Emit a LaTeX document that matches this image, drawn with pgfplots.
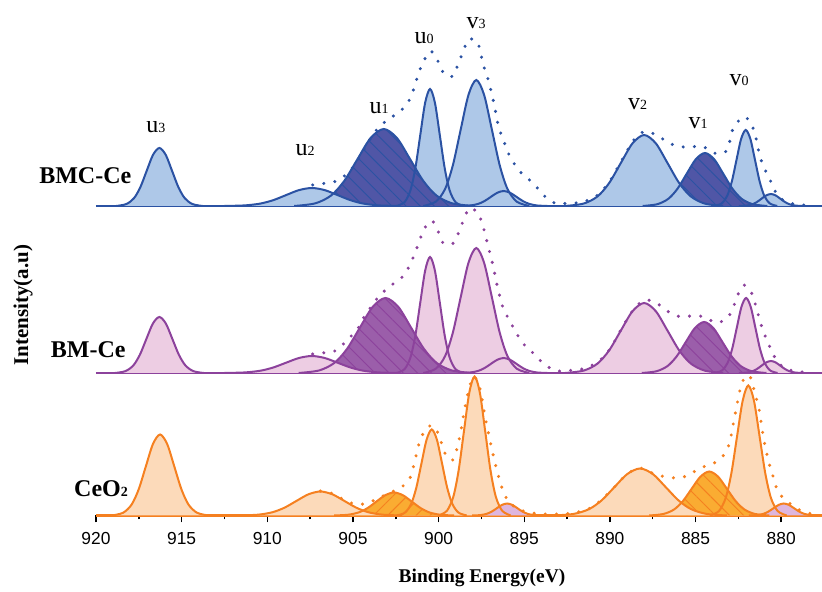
\documentclass[border=0pt]{standalone}
\usepackage{fontspec}
\setmainfont{Liberation Serif}
\newfontfamily\ticksf{Liberation Sans}
\usepackage{pgfplots}
\pgfplotsset{compat=1.18}
\usepackage{pgfplotstable}
\usetikzlibrary{patterns.meta}

\definecolor{aL}{RGB}{43,82,163}
\definecolor{aF}{RGB}{174,200,232}
\definecolor{aH}{RGB}{80,86,166}
\definecolor{bL}{RGB}{140,66,156}
\definecolor{bF}{RGB}{237,205,227}
\definecolor{bH}{RGB}{155,94,170}
\definecolor{cL}{RGB}{245,128,32}
\definecolor{cF}{RGB}{252,218,186}
\definecolor{cH}{RGB}{250,172,50}
\definecolor{cS}{RGB}{222,182,222}

% ---------------- BMC-Ce ----------------
\pgfplotstableread{
x y
913.784 0
914.376 1.97
914.82 7.85
915.19 18.83
915.56 35.18
915.93 51.19
916.3 58
916.67 51.19
917.04 35.18
917.41 18.83
917.78 7.85
918.224 1.97
918.816 0
}\PAa
\pgfplotstableread{
x y
902.3 0
903.5 0.61
904.4 2.44
905.15 5.84
905.9 10.92
906.65 15.89
907.4 18
908.15 15.89
908.9 10.92
909.65 5.84
910.4 2.44
911.3 0.61
912.5 0
}\PAb
\pgfplotstableread{
x y
897.964 0
899.196 2.62
900.12 10.42
900.89 25.0
901.66 46.7
902.43 67.95
903.2 77
903.97 67.95
904.74 46.7
905.51 25.0
906.28 10.42
907.204 2.62
908.436 0
}\PAc
\pgfplotstableread{
x y
898.562 0
899.018 3.98
899.36 15.83
899.645 37.99
899.93 70.96
900.215 103.25
900.5 117
900.785 103.25
901.07 70.96
901.355 37.99
901.64 15.83
901.982 3.98
902.438 0
}\PAd
\pgfplotstableread{
x y
894.706 0
895.434 4.28
895.98 17.05
896.435 40.91
896.89 76.42
897.345 111.2
897.8 126
898.255 111.2
898.71 76.42
899.165 40.91
899.62 17.05
900.166 4.28
900.894 0
}\PAe
\pgfplotstableread{
x y
893.65 0
894.25 0.51
894.7 2.03
895.075 4.87
895.45 9.10
895.825 13.24
896.2 15
896.575 13.24
896.95 9.10
897.325 4.87
897.7 2.03
898.15 0.51
898.75 0
}\PAf
\pgfplotstableread{
x y
883.376 0
884.464 2.41
885.28 9.61
885.96 23.05
886.64 43.06
887.32 62.66
888.0 71
888.68 62.66
889.36 43.06
890.04 23.05
890.72 9.61
891.536 2.41
892.624 0
}\PAg
\pgfplotstableread{
x y
880.812 0
881.668 1.80
882.31 7.17
882.845 17.21
883.38 32.14
883.915 46.77
884.45 53
884.985 46.77
885.52 32.14
886.055 17.21
886.59 7.17
887.232 1.80
888.088 0
}\PAh
\pgfplotstableread{
x y
880.234 0
880.666 2.58
880.99 10.28
881.26 24.68
881.53 46.09
881.8 67.07
882.07 76
882.34 67.07
882.61 46.09
882.88 24.68
883.15 10.28
883.474 2.58
883.906 0
}\PAi
\pgfplotstableread{
x y
878.73 0
879.17 0.41
879.5 1.62
879.775 3.90
880.05 7.28
880.325 10.59
880.6 12
880.875 10.59
881.15 7.28
881.425 3.90
881.7 1.62
882.03 0.41
882.47 0
}\PAj
\pgfplotstableread{
x y
907.35 21
906.63 22.7
905.95 25
905.27 33.3
904.78 44.3
904.0 66.7
903.42 80
902.74 88.7
902.06 97.7
901.61 109.3
901.18 132
900.89 144.3
900.46 155
900.02 144.3
899.67 132
899.14 130
898.85 142.7
898.56 154.3
898.27 166.7
897.72 163.3
897.39 141
897.1 126
896.77 102.7
896.51 80
896.22 66
895.83 49.3
895.25 34.3
894.47 22.7
893.89 11
893.2 2.7
892.6 2.5
891.6 4
890.7 11
890.0 25
889.3 46
888.6 66
888.01 74.3
887.27 71
886.59 63.3
885.91 59.3
885.22 59.3
884.55 59.3
883.86 52.7
883.18 55.3
882.8 77.7
882.17 89.3
881.72 81
881.47 67.7
881.24 49.3
880.85 32.7
880.55 22.7
880.17 9.3
879.5 3
878.5 0.5
}\PAenv

% ---------------- BM-Ce ----------------
\pgfplotstableread{
x y
913.716 0
914.324 1.90
914.78 7.58
915.16 18.18
915.54 33.96
915.92 49.42
916.3 56
916.68 49.42
917.06 33.96
917.44 18.18
917.82 7.58
918.276 1.90
918.884 0
}\PBa
\pgfplotstableread{
x y
902.3 0
903.5 0.58
904.4 2.30
905.15 5.52
905.9 10.31
906.65 15.0
907.4 17
908.15 15.0
908.9 10.31
909.65 5.52
910.4 2.30
911.3 0.58
912.5 0
}\PBb
\pgfplotstableread{
x y
898.034 0
899.226 2.55
900.12 10.15
900.865 24.35
901.61 45.49
902.355 66.19
903.1 75
903.845 66.19
904.59 45.49
905.335 24.35
906.08 10.15
906.974 2.55
908.166 0
}\PBc
\pgfplotstableread{
x y
898.562 0
899.018 3.94
899.36 15.69
899.645 37.67
899.93 70.35
900.215 102.37
900.5 116
900.785 102.37
901.07 70.35
901.355 37.67
901.64 15.69
901.982 3.94
902.438 0
}\PBd
\pgfplotstableread{
x y
894.706 0
895.434 4.25
895.98 16.91
896.435 40.59
896.89 75.81
897.345 110.31
897.8 125
898.255 110.31
898.71 75.81
899.165 40.59
899.62 16.91
900.166 4.25
900.894 0
}\PBe
\pgfplotstableread{
x y
893.65 0
894.25 0.51
894.7 2.03
895.075 4.87
895.45 9.10
895.825 13.24
896.2 15
896.575 13.24
896.95 9.10
897.325 4.87
897.7 2.03
898.15 0.51
898.75 0
}\PBf
\pgfplotstableread{
x y
883.376 0
884.464 2.38
885.28 9.47
885.96 22.73
886.64 42.46
887.32 61.78
888.0 70
888.68 61.78
889.36 42.46
890.04 22.73
890.72 9.47
891.536 2.38
892.624 0
}\PBg
\pgfplotstableread{
x y
880.862 0
881.718 1.73
882.36 6.90
882.895 16.56
883.43 30.93
883.965 45.01
884.5 51
885.035 45.01
885.57 30.93
886.105 16.56
886.64 6.90
887.282 1.73
888.138 0
}\PBh
\pgfplotstableread{
x y
880.214 0
880.646 2.55
880.97 10.15
881.24 24.35
881.51 45.49
881.78 66.19
882.05 75
882.32 66.19
882.59 45.49
882.86 24.35
883.13 10.15
883.454 2.55
883.886 0
}\PBi
\pgfplotstableread{
x y
878.73 0
879.17 0.41
879.5 1.62
879.775 3.90
880.05 7.28
880.325 10.59
880.6 12
880.875 10.59
881.15 7.28
881.425 3.90
881.7 1.62
882.03 0.41
882.47 0
}\PBj
\pgfplotstableread{
x y
907.35 19
906.63 20.3
905.95 23
904.78 43
904.4 54.7
903.91 67
903.42 78
902.74 88
902.06 97
901.63 109.7
901.38 120.3
901.09 133
900.89 143
900.4 152.3
900.02 141.3
899.73 129.7
899.14 129.7
898.85 139.7
898.56 152.3
898.21 164.7
897.72 160.3
897.43 148
897.1 126.3
896.81 106.3
896.61 89.7
896.26 66.3
895.93 54.7
895.15 31.3
894.47 19.7
893.89 9.7
893.2 2.3
892.6 2.3
891.6 4
890.7 11
890.0 24
889.3 45
888.6 64
887.95 73
887.27 69.7
886.59 61.3
885.91 56.3
885.22 57
884.51 56.3
883.81 50.3
883.15 54.7
882.8 65.7
882.54 78
882.17 88
881.72 79.7
881.47 66.3
881.28 54.7
881.04 41.3
880.79 31.3
880.5 19.7
880.11 9
879.5 3
878.5 0.5
}\PBenv

% ---------------- CeO2 ----------------
\pgfplotstableread{
x y
913.438 0
914.102 2.75
914.6 10.96
915.015 26.30
915.43 49.13
915.845 71.48
916.26 81
916.675 71.48
917.09 49.13
917.505 26.30
917.92 10.96
918.418 2.75
919.082 0
}\PCa
\pgfplotstableread{
x y
902.14 0
903.26 0.82
904.1 3.25
904.8 7.79
905.5 14.56
906.2 21.18
906.9 24
907.6 21.18
908.3 14.56
909.0 7.79
909.7 3.25
910.54 0.82
911.66 0
}\PCb
\pgfplotstableread{
x y
899.098 0
899.922 0.78
900.54 3.11
901.055 7.47
901.57 13.95
902.085 20.30
902.6 23
903.115 20.30
903.63 13.95
904.145 7.47
904.66 3.11
905.278 0.78
906.102 0
}\PCc
\pgfplotstableread{
x y
898.36 0
898.84 2.92
899.2 11.64
899.5 27.92
899.8 52.16
900.1 75.90
900.4 86
900.7 75.90
901.0 52.16
901.3 27.92
901.6 11.64
901.96 2.92
902.44 0
}\PCd
\pgfplotstableread{
x y
895.792 0
896.288 4.73
896.66 18.81
896.97 45.13
897.28 84.30
897.59 122.67
897.9 139
898.21 122.67
898.52 84.30
898.83 45.13
899.14 18.81
899.512 4.73
900.008 0
}\PCe
\pgfplotstableread{
x y
893.96 0
894.44 0.41
894.8 1.62
895.1 3.90
895.4 7.28
895.7 10.59
896.0 12
896.3 10.59
896.6 7.28
896.9 3.90
897.2 1.62
897.56 0.41
898.04 0
}\PCf
\pgfplotstableread{
x y
883.174 0
884.366 1.60
885.26 6.36
886.005 15.26
886.75 28.51
887.495 41.48
888.24 47
888.985 41.48
889.73 28.51
890.475 15.26
891.22 6.36
892.114 1.60
893.306 0
}\PCg
\pgfplotstableread{
x y
880.698 0
881.522 1.50
882.14 5.95
882.655 14.29
883.17 26.69
883.685 38.83
884.2 44
884.715 38.83
885.23 26.69
885.745 14.29
886.26 5.95
886.878 1.50
887.702 0
}\PCh
\pgfplotstableread{
x y
879.676 0
880.204 4.42
880.6 17.59
880.93 42.21
881.26 78.85
881.59 114.73
881.92 130
882.25 114.73
882.58 78.85
882.91 42.21
883.24 17.59
883.636 4.42
884.164 0
}\PCi
\pgfplotstableread{
x y
877.81 0
878.29 0.41
878.65 1.62
878.95 3.90
879.25 7.28
879.55 10.59
879.85 12
880.15 10.59
880.45 7.28
880.75 3.90
881.05 1.62
881.41 0.41
881.89 0
}\PCj
\pgfplotstableread{
x y
906.9 24.5
906.2 22
905.6 16.5
904.9 11.5
904.2 12
903.5 17.5
902.74 23.5
902.12 29
901.63 39
901.09 75
900.7 86.7
900.35 90
899.96 80
899.73 66
899.43 57
899.1 57
898.75 80
898.5 105
898.2 128
897.95 139
897.6 128
897.3 100
897.0 75
896.7 52
896.4 33
896.1 19
895.75 11
895.3 6
894.7 3
894.0 1.5
893.0 1.5
892.1 2.6
891.2 7
890.5 15.5
889.7 29
889.0 41.5
888.24 47.5
887.47 42
886.69 38.3
886.1 37.7
885.42 40
884.74 47.7
884.05 51
883.38 60
883.03 71.7
882.76 95
882.31 131.7
881.86 140
881.53 121.7
881.28 105
881.04 78.3
880.75 55
880.46 38.3
880.17 23.3
879.59 13.3
879.0 6
878.3 2
}\PCenv

\pgfplotsset{
  xpsbase/.style={x=8.565pt, y=0.5pt, x dir=reverse, xmin=877.6, xmax=920,
    ymin=0, clip=false, no markers},
  fl/.style={smooth, draw=none, fill=#1},
  ln/.style={smooth, draw=#1, line width=1pt},
  hat/.style n args={3}{smooth, draw=none, fill=#1,
    postaction={pattern color=#2, pattern={Lines[angle=#3,distance=5pt,line width=0.45pt]}}},
  env/.style={smooth, draw=#1, line width=1.7pt, line cap=round, dash pattern=on 0pt off 5.6pt},
  bl/.style={draw=#1, line width=1.2pt},
}

\begin{document}
\begin{tikzpicture}
\useasboundingbox (-48pt,-38.25pt) rectangle (363pt,257.75pt);

% ---------- BMC-Ce ----------
\begin{axis}[xpsbase, at={(0,154.75pt)}, ymax=170, hide axis]
\addplot[bl=aL] coordinates {(920,0) (877.6,0)};
\addplot[fl=aF] table {\PAd} -- cycle;
\addplot[fl=aF] table {\PAe} -- cycle;
\addplot[fl=aF] table {\PAf} -- cycle;
\addplot[fl=aF] table {\PAi} -- cycle;
\addplot[fl=aF] table {\PAj} -- cycle;
\addplot[hat={aH}{aL}{-45}] table {\PAc} -- cycle;
\addplot[hat={aH}{aL}{-45}] table {\PAh} -- cycle;
\addplot[fl=aF] table {\PAa} -- cycle;
\addplot[fl=aF] table {\PAb} -- cycle;
\addplot[fl=aF] table {\PAg} -- cycle;
\addplot[ln=aL] table {\PAa};
\addplot[ln=aL] table {\PAb};
\addplot[ln=aL] table {\PAc};
\addplot[ln=aL] table {\PAd};
\addplot[ln=aL] table {\PAe};
\addplot[ln=aL] table {\PAf};
\addplot[ln=aL] table {\PAg};
\addplot[ln=aL] table {\PAh};
\addplot[ln=aL] table {\PAi};
\addplot[ln=aL] table {\PAj};
\addplot[env=aL] table {\PAenv};
\end{axis}

% ---------- BM-Ce ----------
\begin{axis}[xpsbase, at={(0,71.25pt)}, ymax=170, hide axis]
\addplot[bl=bL] coordinates {(920,0) (877.6,0)};
\addplot[fl=bF] table {\PBd} -- cycle;
\addplot[fl=bF] table {\PBe} -- cycle;
\addplot[fl=bF] table {\PBf} -- cycle;
\addplot[fl=bF] table {\PBi} -- cycle;
\addplot[fl=bF] table {\PBj} -- cycle;
\addplot[hat={bH}{bL}{-45}] table {\PBc} -- cycle;
\addplot[hat={bH}{bL}{-45}] table {\PBh} -- cycle;
\addplot[fl=bF] table {\PBa} -- cycle;
\addplot[fl=bF] table {\PBb} -- cycle;
\addplot[fl=bF] table {\PBg} -- cycle;
\addplot[ln=bL] table {\PBa};
\addplot[ln=bL] table {\PBb};
\addplot[ln=bL] table {\PBc};
\addplot[ln=bL] table {\PBd};
\addplot[ln=bL] table {\PBe};
\addplot[ln=bL] table {\PBf};
\addplot[ln=bL] table {\PBg};
\addplot[ln=bL] table {\PBh};
\addplot[ln=bL] table {\PBi};
\addplot[ln=bL] table {\PBj};
\addplot[env=bL] table {\PBenv};
\end{axis}

% ---------- CeO2 (with x axis) ----------
\begin{axis}[xpsbase, at={(0,0)}, ymax=145,
  axis x line*=bottom, axis y line=none,
  axis line style={black, line width=1pt},
  xtick={880,885,...,920}, minor xtick={882.5,887.5,...,917.5},
  tick align=outside, major tick length=3.5pt, minor tick length=2pt,
  every tick/.style={black, line width=0.75pt},
  ytick=\empty,
  /pgf/number format/assume math mode=true,
  xticklabel style={font=\ticksf\fontsize{8.7}{10}\selectfont, yshift=-1.6pt},
]
\addplot[bl=cL] coordinates {(920,0) (877.6,0)};
\addplot[fl=cF] table {\PCd} -- cycle;
\addplot[fl=cF] table {\PCe} -- cycle;
\addplot[fl=cS] table {\PCf} -- cycle;
\addplot[fl=cF] table {\PCi} -- cycle;
\addplot[fl=cS] table {\PCj} -- cycle;
\addplot[hat={cH}{cL}{45}] table {\PCc} -- cycle;
\addplot[hat={cH}{cL}{-45}] table {\PCh} -- cycle;
\addplot[fl=cF] table {\PCa} -- cycle;
\addplot[fl=cF] table {\PCb} -- cycle;
\addplot[fl=cF] table {\PCg} -- cycle;
\addplot[ln=cL] table {\PCa};
\addplot[ln=cL] table {\PCb};
\addplot[ln=cL] table {\PCc};
\addplot[ln=cL] table {\PCd};
\addplot[ln=cL] table {\PCe};
\addplot[ln=cL] table {\PCf};
\addplot[ln=cL] table {\PCg};
\addplot[ln=cL] table {\PCh};
\addplot[ln=cL] table {\PCi};
\addplot[ln=cL] table {\PCj};
\addplot[env=cL] table {\PCenv};
\end{axis}

% ---------- labels ----------
\tikzset{pk/.style={anchor=base, inner sep=0pt, font=\fontsize{12}{14}\selectfont}}
\newcommand{\sub}[1]{{\fontsize{7}{8}\selectfont #1}}
\node[pk] at (29.9pt,191.25pt) {u\sub{3}};
\node[pk] at (104.5pt,179.75pt) {u\sub{2}};
\node[pk] at (141.5pt,200.75pt) {u\sub{1}};
\node[pk] at (164pt,235.75pt) {u\sub{0}};
\node[pk] at (190pt,243.25pt) {v\sub{3}};
\node[pk] at (270.75pt,202.75pt) {v\sub{2}};
\node[pk] at (301pt,193.25pt) {v\sub{1}};
\node[pk] at (321.5pt,214.75pt) {v\sub{0}};

\tikzset{smp/.style={anchor=base east, inner sep=0pt, font=\bfseries\fontsize{12}{14}\selectfont}}
\node[smp] at (17.85pt,166.1pt) {BMC-Ce};
\node[smp] at (15pt,78.75pt) {BM-Ce};
\node[smp] at (16.15pt,9.25pt) {CeO\sub{2}};

\node[anchor=base, inner sep=0pt, font=\bfseries\fontsize{9.7}{11}\selectfont] at (193pt,-33.75pt) {Binding Energy(eV)};
\node[rotate=90, inner sep=0pt, font=\bfseries\fontsize{10.5}{12}\selectfont] at (-36.5pt,105.25pt) {Intensity(a.u)};
\end{tikzpicture}
\end{document}
